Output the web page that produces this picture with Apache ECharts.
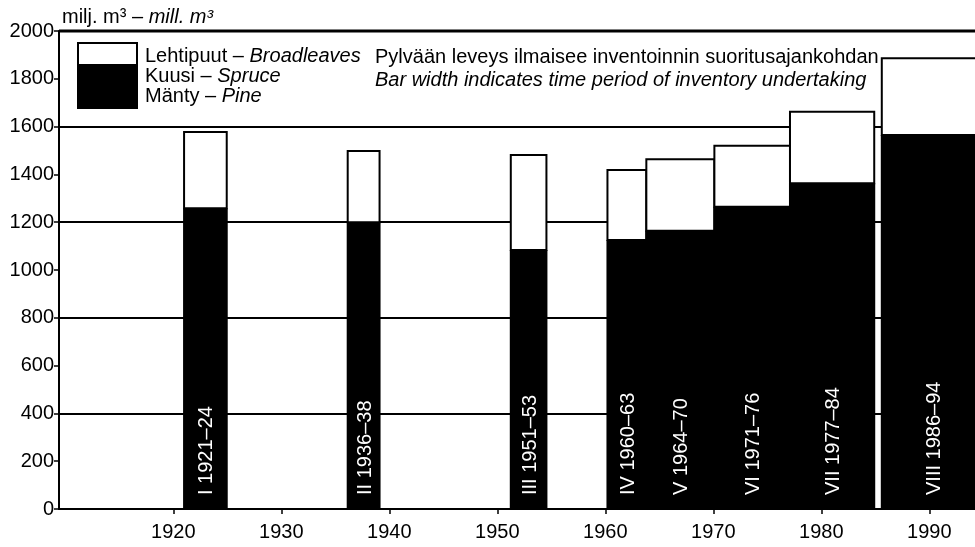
<!DOCTYPE html>
<html>
<head>
<meta charset="utf-8">
<script src="https://cdn.jsdelivr.net/npm/echarts@6/dist/echarts.min.js"></script>
<style>
html,body{margin:0;padding:0;background:#fff;}
#chart{width:975px;height:547px;}
</style>
</head>
<body>
<div id="chart"></div>
<script>
// Inventory periods (start / end of each bar on the time axis)
const romans = ['I', 'II', 'III', 'IV', 'V', 'VI', 'VII', 'VIII'];
const periods = ['1921–24', '1936–38', '1951–53', '1960–63', '1964–70', '1971–76', '1977–84', '1986–94'];
const startYear = [1921, 1936.15, 1951.25, 1960.2, 1963.8, 1970.1, 1977.1, 1985.6];
const endYear = [1924.95, 1939.1, 1954.55, 1963.8, 1970.1, 1977.1, 1984.9, 1995];
// Growing stock, mill. m3
const conifers = [1258, 1200, 1084, 1126, 1164, 1265, 1363, 1565];   // Mänty + Kuusi (pine + spruce)
const broadleaves = [319, 298, 397, 292, 299, 255, 299, 321];        // Lehtipuut
// Axis ticks
const xTicks = [1920, 1930, 1940, 1950, 1960, 1970, 1980, 1990];
const yMin = 0, yMax = 2000, yStep = 200, yGridStep = 400;

const FONT = "'Liberation Sans', Arial, sans-serif";
const FS = 20;

const data = startYear.map((s, i) => [s, endYear[i], conifers[i], broadleaves[i], i]);

function renderItem(params, api) {
  const x0 = api.value(0), x1 = api.value(1), c = api.value(2), b = api.value(3);
  const i = api.value(4);
  const pBase = api.coord([x0, 0]);
  const pCon = api.coord([x1, c]);
  const pTop = api.coord([x1, c + b]);
  const cs = params.coordSys;
  const right = cs.x + cs.width;
  const left = pBase[0];
  const rEnd = Math.min(pCon[0], right + 2);
  const w = rEnd - left;
  const cx = (left + pCon[0]) / 2 + 1.5;
  return {
    type: 'group',
    children: [
      { type: 'rect', shape: { x: left, y: pTop[1], width: w, height: pCon[1] - pTop[1] },
        style: { fill: '#fff', stroke: '#000', lineWidth: 2 } },
      { type: 'rect', shape: { x: left - 1, y: pCon[1], width: w + 2, height: pBase[1] - pCon[1] },
        style: { fill: '#000', stroke: null } },
      { type: 'text', x: cx, y: pBase[1] - 14, rotation: Math.PI / 2,
        style: { text: romans[i] + ' ' + periods[i], fill: '#fff', font: FS + 'px ' + FONT,
                 align: 'left', verticalAlign: 'middle' } }
    ]
  };
}

const rich = { n: { font: FS + 'px ' + FONT, fill: '#000' }, i: { font: 'italic ' + FS + 'px ' + FONT, fill: '#000' } };

const chart = echarts.init(document.getElementById('chart'), null, { renderer: 'canvas' });
chart.setOption({
  animation: false,
  backgroundColor: '#fff',
  grid: { left: 59, right: 0, top: 31, bottom: 38, containLabel: false },
  xAxis: {
    type: 'value', min: 1909.42, max: 1994.23,
    axisLine: { show: true, onZero: false, lineStyle: { color: '#000', width: 2 } },
    axisTick: { show: true, customValues: xTicks, length: 5, lineStyle: { color: '#000', width: 1.5 } },
    axisLabel: { customValues: xTicks, color: '#000', fontSize: FS, fontFamily: FONT, margin: 13,
                 formatter: v => String(v) },
    splitLine: { show: false }
  },
  yAxis: [
    {
      type: 'value', min: yMin, max: yMax, interval: yStep,
      axisLine: { show: true, lineStyle: { color: '#000', width: 2 } },
      axisTick: { show: true, length: 5, lineStyle: { color: '#000', width: 1.5 } },
      axisLabel: { color: '#000', fontSize: FS, fontFamily: FONT, margin: 5, formatter: v => String(v) },
      splitLine: { show: false }
    },
    {
      type: 'value', min: yMin, max: yMax, interval: yGridStep, position: 'left',
      axisLine: { show: false }, axisTick: { show: false }, axisLabel: { show: false },
      splitLine: { show: true, lineStyle: { color: '#000', width: 2 } }
    }
  ],
  series: [{
    type: 'custom',
    renderItem: renderItem,
    encode: { x: [0, 1], y: 2 },
    data: data,
    clip: true
  }],
  graphic: [
    { type: 'text', left: 62, top: 7,
      style: { rich: rich, text: '{n|milj. m³ – }{i|mill. m³}' } },
    { type: 'line', shape: { x1: 59, y1: 31, x2: 975, y2: 31 }, style: { stroke: '#000', lineWidth: 3 } },
    { type: 'rect', shape: { x: 78, y: 43, width: 59, height: 65 },
      style: { fill: '#fff', stroke: '#000', lineWidth: 2 } },
    { type: 'rect', shape: { x: 78, y: 64, width: 59, height: 44 }, style: { fill: '#000' } },
    { type: 'text', x: 145, y: 56,
      style: { rich: rich, text: '{n|Lehtipuut – }{i|Broadleaves}', verticalAlign: 'middle' } },
    { type: 'text', x: 145, y: 76,
      style: { rich: rich, text: '{n|Kuusi – }{i|Spruce}', verticalAlign: 'middle' } },
    { type: 'text', x: 145, y: 96,
      style: { rich: rich, text: '{n|Mänty – }{i|Pine}', verticalAlign: 'middle' } },
    { type: 'text', x: 375, y: 57,
      style: { text: 'Pylvään leveys ilmaisee inventoinnin suoritusajankohdan', font: FS + 'px ' + FONT,
               fill: '#000', verticalAlign: 'middle' } },
    { type: 'text', x: 375, y: 80,
      style: { text: 'Bar width indicates time period of inventory undertaking', font: 'italic ' + FS + 'px ' + FONT,
               fill: '#000', verticalAlign: 'middle' } }
  ]
});
</script>
</body>
</html>
